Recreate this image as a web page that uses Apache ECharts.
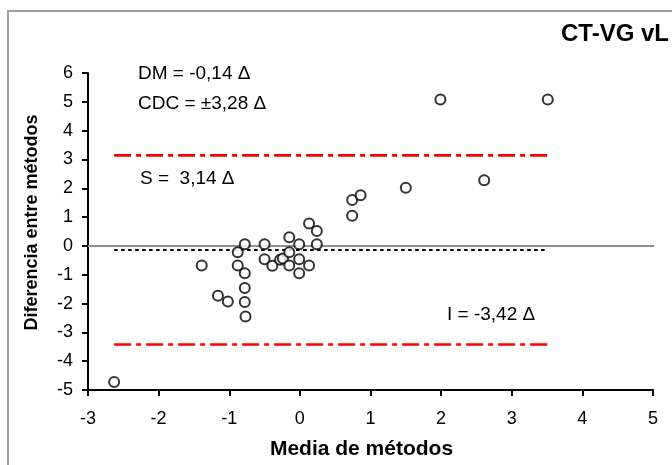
<!DOCTYPE html>
<html><head><meta charset="utf-8">
<script src="https://cdn.jsdelivr.net/npm/echarts@6/dist/echarts.min.js"></script>
<style>html,body{margin:0;padding:0;background:#fff}#c{width:672px;height:465px}</style>
</head><body><div id="c"></div>
<script>
// Bland-Altman data: mean of methods (x) and difference between methods (y)
const meanVals = [-2.63,-1.39,-1.16,-1.02,-0.88,-0.88,-0.78,-0.78,-0.78,-0.78,-0.77,
  -0.50,-0.50,-0.39,-0.28,-0.24,-0.15,-0.15,-0.15,-0.01,-0.01,-0.01,
  0.13,0.13,0.24,0.24,0.74,0.74,0.86,1.50,1.99,2.61,3.51];
const diffVals = [-4.72,-0.68,-1.73,-1.93,-0.22,-0.68,0.06,-0.95,-1.46,-1.95,-2.45,
  0.06,-0.46,-0.69,-0.48,-0.44,0.30,-0.22,-0.68,0.06,-0.46,-0.95,
  0.78,-0.68,0.52,0.06,1.59,1.05,1.76,2.02,5.08,2.28,5.08];
const meanDiff = -0.14;   // DM
const upperLimit = 3.14;  // S
const lowerLimit = -3.42; // I
const xTicks = [-3,-2,-1,0,1,2,3,4,5];
const yTicks = [-5,-4,-3,-2,-1,0,1,2,3,4,5,6];
const labels = ['DM = -0,14 \u0394', 'CDC = \u00b13,28 \u0394', 'S =  3,14 \u0394', 'I = -3,42 \u0394'];
const title = 'CT-VG vL';

const pts = meanVals.map((m,i)=>[m, diffVals[i]]);
const xMin = Math.min(...meanVals), xMax = Math.max(...meanVals);
const font = '"Liberation Sans", Arial, sans-serif';
const chart = echarts.init(document.getElementById('c'), null, {renderer:'canvas'});
chart.setOption({
  animation:false,
  grid:{left:88,right:19,top:73,bottom:74,containLabel:false},
  xAxis:{type:'value',min:xTicks[0],max:xTicks[xTicks.length-1],interval:1,
    axisLine:{onZero:false,lineStyle:{color:'#000',width:2}},
    axisTick:{show:true,length:6,lineStyle:{color:'#000',width:2}},
    axisLabel:{color:'#000',fontSize:18,fontFamily:font,margin:20},
    splitLine:{show:false},
    name:'Media de métodos',nameLocation:'middle',nameGap:49,
    nameTextStyle:{color:'#000',fontSize:21,fontWeight:'bold',fontFamily:font,padding:[0,18,0,0]}},
  yAxis:{type:'value',min:yTicks[0],max:yTicks[yTicks.length-1],interval:1,
    axisLine:{onZero:false,lineStyle:{color:'#000',width:2}},
    axisTick:{show:true,length:6,lineStyle:{color:'#000',width:2}},
    axisLabel:{color:'#000',fontSize:18,fontFamily:font,margin:15},
    splitLine:{show:false},
    name:'Diferencia entre métodos',nameLocation:'middle',nameGap:47,
    nameTextStyle:{color:'#000',fontSize:18,fontWeight:'bold',fontFamily:font,padding:[0,0,0,18]}},
  graphic:[
    {type:'rect',shape:{x:8,y:11,width:700,height:480},style:{fill:'none',stroke:'#a0a0a0',lineWidth:2},silent:true,z:-1},
    {type:'text',x:561,y:34,style:{text:title,font:'bold 24px '+font,fill:'#000',verticalAlign:'middle'}},
    {type:'text',x:138,y:74,style:{text:labels[0],font:'19px '+font,fill:'#000',verticalAlign:'middle'}},
    {type:'text',x:138,y:104,style:{text:labels[1],font:'19px '+font,fill:'#000',verticalAlign:'middle'}},
    {type:'text',x:140,y:179,style:{text:labels[2],font:'19px '+font,fill:'#000',verticalAlign:'middle'}},
    {type:'text',x:447,y:315,style:{text:labels[3],font:'19px '+font,fill:'#000',verticalAlign:'middle'}}
  ],
  series:[
    {type:'line',data:[[xTicks[0],0],[5.13,0]],symbol:'none',clip:false,
      lineStyle:{color:'#909090',width:2},z:1},
    {type:'line',data:[[xMin,meanDiff],[xMax,meanDiff]],symbol:'none',
      lineStyle:{color:'#000',width:2,type:[3.5,3.5]},z:2},
    {type:'line',data:[[xMin,upperLimit],[xMax,upperLimit]],symbol:'none',
      lineStyle:{color:'#ff0000',width:2.6,type:[17,5,5,5]},z:2},
    {type:'line',data:[[xMin,lowerLimit],[xMax,lowerLimit]],symbol:'none',
      lineStyle:{color:'#ff0000',width:2.6,type:[17,5,5,5]},z:2},
    {type:'scatter',data:pts,symbol:'circle',symbolSize:10,
      itemStyle:{color:'#fff',borderColor:'#000',borderWidth:2},z:5}
  ]
});
</script></body></html>
